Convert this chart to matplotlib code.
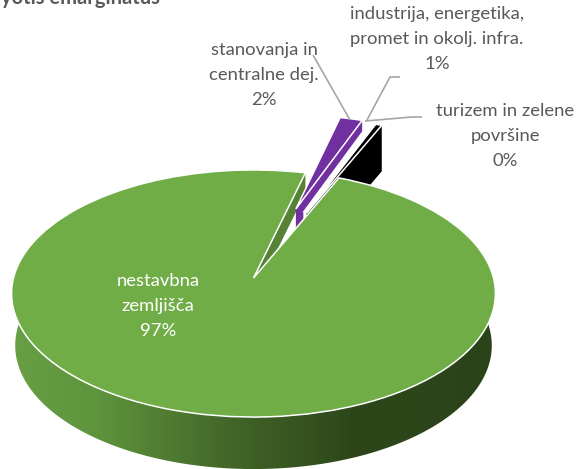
import numpy as np
import matplotlib
matplotlib.use("Agg")
import matplotlib.pyplot as plt
from matplotlib.colors import LinearSegmentedColormap
from matplotlib.patches import Polygon
from matplotlib.transforms import Transform

plt.rcParams['font.family'] = ['Lato', 'DejaVu Sans']

# Data
categories = ["nestavbna\nzemljišča", "stanovanja in\ncentralne dej.", "turizem in zelene\npovršine", "industrija, energetika,\npromet in okolj. infra."]
values = [97.4, 1.8, 0.3, 0.5]
percent_labels = ["97%", "2%", "0%", "1%"]
colors = ["#70ad47", "#7030a0", "#ffffff", "#000000"]
explode = [0, 0.64, 0.62, 0.62]
start_angle = 66.6

# Projection of the unit pie to the tilted view
CX, CY, RX, A, B = 253.5, 278.0, 240.0, 121.6, 0.1255
DEPTH_FRONT, DEPTH_SLICE, DEPTH_NOTCH = 52, 46, 20


class Tilt(Transform):
    input_dims = output_dims = 2
    is_separable = False
    has_inverse = False

    def transform_non_affine(self, values):
        values = np.asarray(values, float)
        w = 1 + B * values[:, 1]
        return np.column_stack((CX + RX * values[:, 0] / w, CY - A * values[:, 1] / w))


tilt = Tilt()


def project(u, v):
    return tilt.transform_non_affine(np.column_stack((u, v)))


fig = plt.figure(figsize=(5.76, 4.69), dpi=100)
ax = fig.add_axes([0, 0, 1, 1])
wedges, _ = ax.pie(values, explode=explode, startangle=start_angle, counterclock=False,
                   colors=colors, wedgeprops=dict(edgecolor="white", linewidth=1.1))
ax.set_aspect("auto")
for w in wedges:
    w.set_transform(tilt + ax.transData)


def edge_wall(w, theta, depth, color, z):
    c = np.array(w.center)
    rad = np.radians(theta)
    p = project(np.array([c[0], c[0] + np.cos(rad)]), np.array([c[1], c[1] + np.sin(rad)]))
    q = p + [0, depth]
    ax.add_patch(Polygon(np.vstack((p, q[::-1])), closed=True, facecolor=color,
                         edgecolor="none", zorder=z))


# Green rim with its horizontal shading
green = wedges[0]
t = np.radians(np.linspace(180 - 9, 360 + 9, 240))
rim = project(np.cos(t), np.sin(t))
low = rim.copy()
low[:, 0] = CX + (low[:, 0] - CX) * 0.985
low[:, 1] += DEPTH_FRONT
rim_patch = Polygon(np.vstack((rim, low[::-1])), closed=True, transform=ax.transData,
                    facecolor="none", edgecolor="none")
ax.add_patch(rim_patch)
shade = LinearSegmentedColormap.from_list("rim", [
    (0.00, "#689f45"), (0.18, "#5e943c"), (0.33, "#4f7a31"),
    (0.48, "#3f6226"), (0.70, "#2d471a"), (1.00, "#2b4319")])
im = ax.imshow(np.linspace(0, 1, 512)[None, :], cmap=shade, extent=[11, 496, 469, 0],
               aspect="auto", zorder=1)
im.set_clip_path(rim_patch)

# Inner wall of the gap in the green slice
edge_wall(green, green.theta1, DEPTH_NOTCH, "#568235", 2)

# Exploded slices, back to front: wall of the right edge, then the top
for i, w in enumerate(wedges[1:]):
    edge_wall(w, w.theta1, DEPTH_SLICE, colors[i + 1], 3 + 2 * i)
    w.set_zorder(4 + 2 * i)
green.set_zorder(12)

# Leader lines
leader_x = [[313, 350], [422, 412, 365], [400, 390, 367]]
leader_y = [[55, 120], [117, 117, 121], [77, 77, 120]]
for lx, ly in zip(leader_x, leader_y):
    ax.plot(lx, ly, color="#a6a6a6", lw=1.2, zorder=13, solid_capstyle="butt")

# Labels
label_pos = [(158, 306), (264, 75), (505, 136), (437, 39)]
label_col = ["white", "#595959", "#595959", "#595959"]
for cat, pct, (x, y), col in zip(categories, percent_labels, label_pos, label_col):
    ax.text(x, y, f"{cat}\n{pct}", ha="center", va="center", color=col, fontsize=13.3,
            linespacing=1.66, zorder=14)

ax.text(-18, 4, "Myotis emarginatus", ha="left", va="baseline", color="#595959",
        fontsize=14.5, fontweight="bold", zorder=14)

ax.set_xlim(0, 576)
ax.set_ylim(469, 0)
ax.set_frame_on(False)
ax.set_xticks([])
ax.set_yticks([])
fig.savefig("out.png", dpi=100)
